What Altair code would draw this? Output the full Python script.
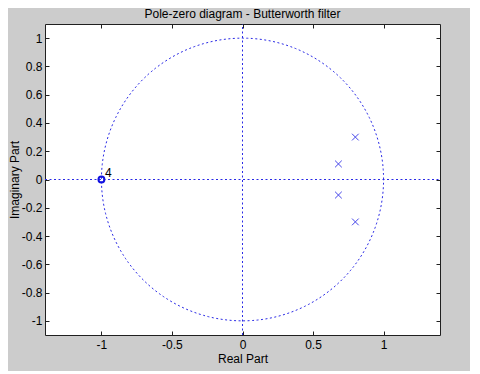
import altair as alt
import pandas as pd

# ---- data ----
pole_re = [0.68, 0.68, 0.80, 0.80]
pole_im = [0.11, -0.11, 0.30, -0.30]
zero_re = [-1.0]
zero_im = [0.0]
zero_mult = ["4"]
x_ticks = [-1, -0.5, 0, 0.5, 1]
y_ticks = [-1, -0.8, -0.6, -0.4, -0.2, 0, 0.2, 0.4, 0.6, 0.8, 1]
x_domain = [-1.4, 1.4]
y_domain = [-1.1, 1.1]
chart_title = "Pole-zero diagram - Butterworth filter"
x_title = "Real Part"
y_title = "Imaginary Part"

poles = pd.DataFrame({"re": pole_re, "im": pole_im})
zeros = pd.DataFrame({"re": zero_re, "im": zero_im, "m": zero_mult})
axes_df = pd.DataFrame({"lo_x": [x_domain[0]], "hi_x": [x_domain[1]],
                        "lo_y": [y_domain[0]], "hi_y": [y_domain[1]], "o": [0.0]})

FONT = "Liberation Sans"
BLUE = "#2a2ae6"
XCOL = "#4646ea"
DASH = [2, 2.5]

xs = alt.Scale(domain=x_domain, nice=False, zero=False)
ys = alt.Scale(domain=y_domain, nice=False, zero=False)
lab = "datum.value + ''"

x_axis = alt.Axis(values=x_ticks, labelExpr=lab, title=x_title, orient="bottom",
                  offset=-4, tickSize=4, labelPadding=4, titlePadding=3,
                  labelOverlap=False)
y_axis = alt.Axis(values=y_ticks, labelExpr=lab, title=y_title, orient="left",
                  offset=-4, tickSize=4, labelPadding=3, titlePadding=0,
                  labelOverlap=False)


def X(field):
    return alt.X(field, scale=xs, axis=x_axis)


def Y(field):
    return alt.Y(field, scale=ys, axis=y_axis)


circle = alt.Chart(alt.sequence(0, 362, 2, as_="t")).transform_calculate(
    cx="cos(datum.t*PI/180)", cy="sin(datum.t*PI/180)"
).mark_line(strokeDash=DASH, strokeWidth=1, color=BLUE).encode(
    x=X("cx:Q"), y=Y("cy:Q"), order="t:Q",
)

vrule = alt.Chart(axes_df).mark_rule(strokeDash=DASH, strokeWidth=1, color=BLUE).encode(
    x=X("o:Q"), y=Y("lo_y:Q"), y2="hi_y:Q")
hrule = alt.Chart(axes_df).mark_rule(strokeDash=DASH, strokeWidth=1, color=BLUE).encode(
    y=Y("o:Q"), x=X("lo_x:Q"), x2="hi_x:Q")

pole_pts = alt.Chart(poles).mark_point(
    shape="M-1,-1L1,1M-1,1L1,-1", size=45, filled=False, strokeWidth=1, opacity=1,
    color=XCOL
).encode(x=X("re:Q"), y=Y("im:Q"))

zero_pts = alt.Chart(zeros).mark_point(
    shape="circle", size=35, filled=False, strokeWidth=2, opacity=1, color="#1010e0"
).encode(x=X("re:Q"), y=Y("im:Q"))

zero_txt = alt.Chart(zeros).mark_text(
    dx=7, dy=-7, font=FONT, fontSize=12, color="black"
).encode(x=X("re:Q"), y=Y("im:Q"), text="m:N")

content = alt.layer(circle, vrule, hrule, pole_pts, zero_pts, zero_txt)

frame = alt.Chart(poles).mark_point(opacity=0).encode(
    x=alt.X("re:Q", scale=xs, axis=alt.Axis(orient="top", values=x_ticks, labels=False,
                                            title=None, offset=-4, tickSize=4)),
    y=alt.Y("im:Q", scale=ys, axis=alt.Axis(orient="right", values=y_ticks, labels=False,
                                            title=None, offset=-4, tickSize=4)),
)

chart = alt.layer(content, frame).resolve_scale(
    x="independent", y="independent"
).properties(
    width=395,
    height=311,
    autosize=alt.AutoSizeParams(type="none"),
    padding={"left": 37, "top": 16, "right": 30, "bottom": 36},
    background="#cccccc",
    title=alt.TitleParams(text=chart_title, font=FONT, fontSize=12, fontWeight="normal",
                          color="black", anchor="middle", offset=3),
).configure_view(
    fill="white", stroke="#202020", strokeWidth=1
).configure_axis(
    grid=False, domain=False, tickColor="#202020", tickWidth=1,
    labelFont=FONT, labelFontSize=12, labelColor="black",
    titleFont=FONT, titleFontSize=12, titleFontWeight="normal", titleColor="black",
)

chart.save("out.html", embed_options={"renderer": "svg", "actions": False})
